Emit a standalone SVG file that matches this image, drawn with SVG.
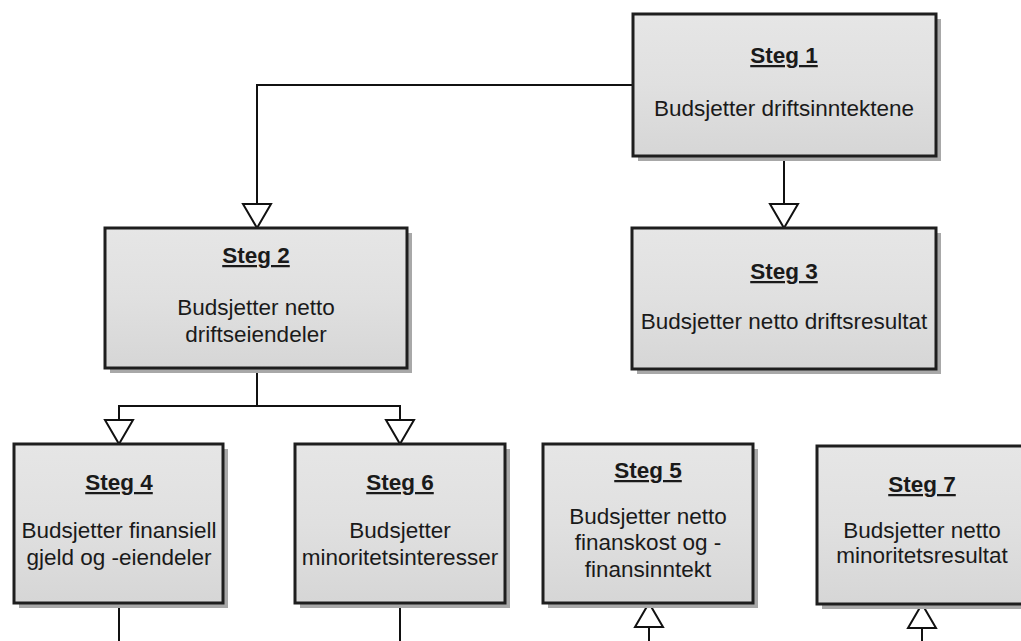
<svg xmlns="http://www.w3.org/2000/svg" width="1021" height="641" viewBox="0 0 1021 641">
  <defs>
    <linearGradient id="boxFill" x1="0" y1="0" x2="0" y2="1">
      <stop offset="0" stop-color="#e6e6e6"/>
      <stop offset="0.5" stop-color="#e0e0e0"/>
      <stop offset="1" stop-color="#d6d6d6"/>
    </linearGradient>
    <marker id="openTri" viewBox="-2 -2 28 32" refX="24" refY="14" markerWidth="28" markerHeight="32" markerUnits="userSpaceOnUse" orient="auto" overflow="visible">
      <path d="M0,0 L24,14 L0,28 Z" fill="#ffffff" stroke="#111111" stroke-width="2" stroke-linejoin="miter"/>
    </marker>
    <style>
      .shadow { fill: #a8a8a8; }
      .box { fill: url(#boxFill); stroke: #1e1e1e; stroke-width: 3; }
      .title { font-family: "Liberation Sans", Arial, sans-serif; font-size: 22.5px; font-weight: bold; fill: #1a1a1a; text-anchor: middle; text-decoration: underline; }
      .body { font-family: "Liberation Sans", Arial, sans-serif; font-size: 22.5px; fill: #1a1a1a; text-anchor: middle; }
      .conn { fill: none; stroke: #111111; stroke-width: 2; }
    </style>
  </defs>

  <rect width="1021" height="641" fill="#ffffff"/>

  <!-- connectors -->
  <g id="connectors">
    <path class="conn" d="M633,85 H257 V228" marker-end="url(#openTri)"/>
    <path class="conn" d="M784,156 V228" marker-end="url(#openTri)"/>
    <path class="conn" d="M257,368 V406 H119 V444" marker-end="url(#openTri)"/>
    <path class="conn" d="M257,406 H400 V444" marker-end="url(#openTri)"/>
    <path class="conn" d="M119,603 V641"/>
    <path class="conn" d="M400,603 V641"/>
    <path class="conn" d="M649,641 V603" marker-end="url(#openTri)"/>
    <path class="conn" d="M922,641 V604" marker-end="url(#openTri)"/>
  </g>

  <!-- Steg 1 -->
  <g id="steg1">
    <rect class="shadow" x="638" y="19" width="303" height="142"/>
    <rect class="box" x="633" y="14" width="303" height="142"/>
    <text class="title" x="784" y="63">Steg 1</text>
    <text class="body" x="784" y="116">Budsjetter driftsinntektene</text>
  </g>

  <!-- Steg 2 -->
  <g id="steg2">
    <rect class="shadow" x="110" y="233" width="302" height="140"/>
    <rect class="box" x="105" y="228" width="302" height="140"/>
    <text class="title" x="256" y="263">Steg 2</text>
    <text class="body" x="256" y="315">Budsjetter netto</text>
    <text class="body" x="256" y="342">driftseiendeler</text>
  </g>

  <!-- Steg 3 -->
  <g id="steg3">
    <rect class="shadow" x="637" y="233" width="304" height="141"/>
    <rect class="box" x="632" y="228" width="304" height="141"/>
    <text class="title" x="784" y="279">Steg 3</text>
    <text class="body" x="784" y="329">Budsjetter netto driftsresultat</text>
  </g>

  <!-- Steg 4 -->
  <g id="steg4">
    <rect class="shadow" x="19" y="449" width="209" height="159"/>
    <rect class="box" x="14" y="444" width="209" height="159"/>
    <text class="title" x="119" y="490">Steg 4</text>
    <text class="body" x="119" y="538">Budsjetter finansiell</text>
    <text class="body" x="119" y="565">gjeld og -eiendeler</text>
  </g>

  <!-- Steg 6 -->
  <g id="steg6">
    <rect class="shadow" x="300" y="449" width="210" height="159"/>
    <rect class="box" x="295" y="444" width="210" height="159"/>
    <text class="title" x="400" y="490">Steg 6</text>
    <text class="body" x="400" y="538">Budsjetter</text>
    <text class="body" x="400" y="565">minoritetsinteresser</text>
  </g>

  <!-- Steg 5 -->
  <g id="steg5">
    <rect class="shadow" x="548" y="449" width="210" height="159"/>
    <rect class="box" x="543" y="444" width="210" height="159"/>
    <text class="title" x="648" y="478">Steg 5</text>
    <text class="body" x="648" y="524">Budsjetter netto</text>
    <text class="body" x="648" y="550">finanskost og -</text>
    <text class="body" x="648" y="577">finansinntekt</text>
  </g>

  <!-- Steg 7 -->
  <g id="steg7">
    <rect class="shadow" x="822" y="451" width="214" height="158"/>
    <rect class="box" x="817" y="446" width="214" height="158"/>
    <text class="title" x="922" y="492">Steg 7</text>
    <text class="body" x="922" y="538">Budsjetter netto</text>
    <text class="body" x="922" y="563">minoritetsresultat</text>
  </g>
</svg>
